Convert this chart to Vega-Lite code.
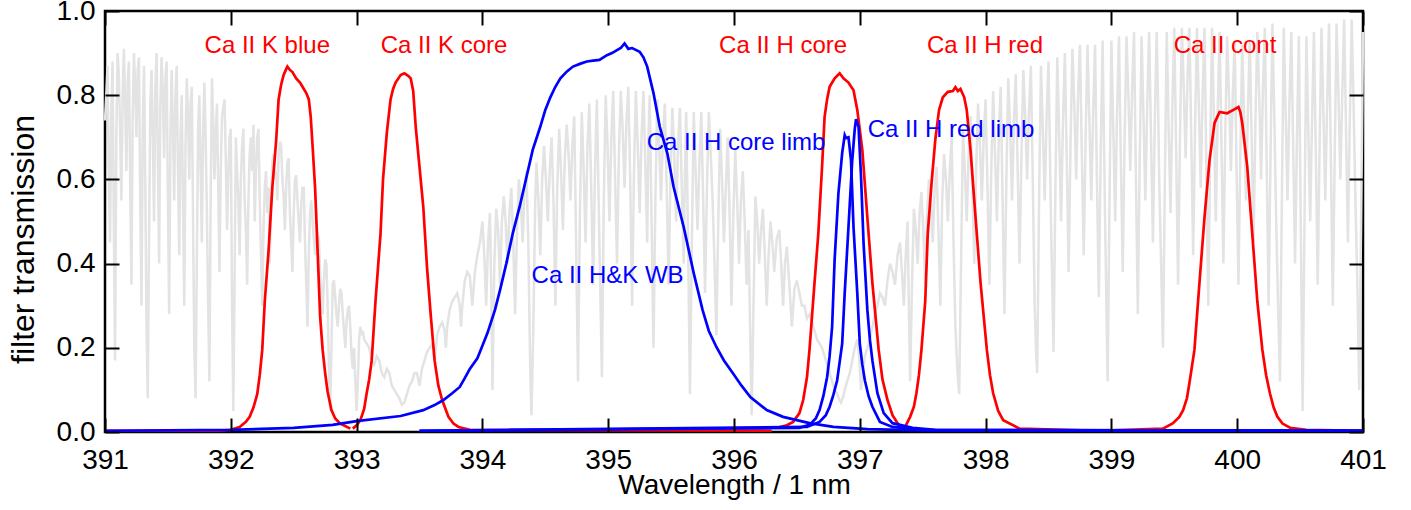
{
"$schema": "https://vega.github.io/schema/vega-lite/v6.json",
"width": 1258, "height": 421,
"autosize": {"type": "none"},
"padding": {"left": 105, "top": 11, "right": 48, "bottom": 78},
"config": {"view": {"stroke": "black", "strokeWidth": 2.5}, "font": "Liberation Sans"},
"datasets": {
"grey": [
{"w":391.00,"t":0.74},{"w":391.01,"t":0.80},{"w":391.02,"t":0.87},{"w":391.03,"t":0.62},{"w":391.04,"t":0.45},{"w":391.05,"t":0.76},{"w":391.06,"t":0.88},{"w":391.07,"t":0.50},{"w":391.08,"t":0.17},{"w":391.09,"t":0.70},{"w":391.10,"t":0.90},{"w":391.11,"t":0.85},{"w":391.12,"t":0.72},{"w":391.13,"t":0.55},{"w":391.14,"t":0.80},{"w":391.15,"t":0.91},{"w":391.16,"t":0.78},{"w":391.17,"t":0.62},{"w":391.18,"t":0.83},{"w":391.19,"t":0.88},{"w":391.20,"t":0.60},{"w":391.21,"t":0.35},{"w":391.22,"t":0.75},{"w":391.23,"t":0.90},{"w":391.24,"t":0.82},{"w":391.25,"t":0.70},{"w":391.26,"t":0.86},{"w":391.27,"t":0.89},{"w":391.28,"t":0.55},{"w":391.29,"t":0.30},{"w":391.30,"t":0.72},{"w":391.31,"t":0.87},{"w":391.32,"t":0.60},{"w":391.33,"t":0.25},{"w":391.34,"t":0.08},{"w":391.35,"t":0.45},{"w":391.36,"t":0.78},{"w":391.37,"t":0.86},{"w":391.38,"t":0.70},{"w":391.39,"t":0.50},{"w":391.40,"t":0.82},{"w":391.41,"t":0.90},{"w":391.42,"t":0.65},{"w":391.43,"t":0.40},{"w":391.44,"t":0.78},{"w":391.45,"t":0.89},{"w":391.46,"t":0.80},{"w":391.47,"t":0.65},{"w":391.48,"t":0.84},{"w":391.49,"t":0.88},{"w":391.50,"t":0.55},{"w":391.51,"t":0.28},{"w":391.52,"t":0.70},{"w":391.53,"t":0.86},{"w":391.54,"t":0.72},{"w":391.55,"t":0.55},{"w":391.56,"t":0.80},{"w":391.57,"t":0.87},{"w":391.58,"t":0.62},{"w":391.59,"t":0.42},{"w":391.60,"t":0.70},{"w":391.61,"t":0.80},{"w":391.62,"t":0.55},{"w":391.63,"t":0.30},{"w":391.64,"t":0.68},{"w":391.65,"t":0.84},{"w":391.66,"t":0.75},{"w":391.67,"t":0.60},{"w":391.68,"t":0.78},{"w":391.69,"t":0.82},{"w":391.70,"t":0.50},{"w":391.71,"t":0.20},{"w":391.72,"t":0.08},{"w":391.73,"t":0.40},{"w":391.74,"t":0.72},{"w":391.75,"t":0.80},{"w":391.76,"t":0.62},{"w":391.77,"t":0.45},{"w":391.78,"t":0.72},{"w":391.79,"t":0.83},{"w":391.80,"t":0.70},{"w":391.81,"t":0.52},{"w":391.82,"t":0.30},{"w":391.83,"t":0.12},{"w":391.84,"t":0.55},{"w":391.85,"t":0.84},{"w":391.86,"t":0.74},{"w":391.87,"t":0.60},{"w":391.88,"t":0.70},{"w":391.89,"t":0.78},{"w":391.90,"t":0.58},{"w":391.91,"t":0.38},{"w":391.92,"t":0.62},{"w":391.93,"t":0.75},{"w":391.94,"t":0.77},{"w":391.95,"t":0.79},{"w":391.96,"t":0.65},{"w":391.97,"t":0.48},{"w":391.98,"t":0.60},{"w":391.99,"t":0.70},{"w":392.00,"t":0.72},{"w":392.01,"t":0.30},{"w":392.02,"t":0.05},{"w":392.03,"t":0.35},{"w":392.04,"t":0.70},{"w":392.05,"t":0.62},{"w":392.06,"t":0.55},{"w":392.07,"t":0.42},{"w":392.08,"t":0.60},{"w":392.09,"t":0.68},{"w":392.10,"t":0.72},{"w":392.11,"t":0.55},{"w":392.12,"t":0.48},{"w":392.13,"t":0.35},{"w":392.14,"t":0.55},{"w":392.15,"t":0.66},{"w":392.16,"t":0.70},{"w":392.17,"t":0.62},{"w":392.18,"t":0.73},{"w":392.19,"t":0.50},{"w":392.20,"t":0.62},{"w":392.21,"t":0.70},{"w":392.22,"t":0.72},{"w":392.23,"t":0.55},{"w":392.24,"t":0.42},{"w":392.25,"t":0.30},{"w":392.26,"t":0.48},{"w":392.27,"t":0.58},{"w":392.28,"t":0.62},{"w":392.29,"t":0.52},{"w":392.30,"t":0.58},{"w":392.31,"t":0.40},{"w":392.32,"t":0.55},{"w":392.33,"t":0.64},{"w":392.34,"t":0.66},{"w":392.35,"t":0.60},{"w":392.36,"t":0.62},{"w":392.37,"t":0.55},{"w":392.38,"t":0.66},{"w":392.39,"t":0.69},{"w":392.40,"t":0.68},{"w":392.41,"t":0.60},{"w":392.42,"t":0.56},{"w":392.43,"t":0.48},{"w":392.44,"t":0.58},{"w":392.45,"t":0.64},{"w":392.46,"t":0.65},{"w":392.47,"t":0.52},{"w":392.48,"t":0.45},{"w":392.49,"t":0.38},{"w":392.50,"t":0.52},{"w":392.51,"t":0.60},{"w":392.52,"t":0.61},{"w":392.53,"t":0.55},{"w":392.54,"t":0.50},{"w":392.55,"t":0.45},{"w":392.56,"t":0.54},{"w":392.57,"t":0.58},{"w":392.58,"t":0.58},{"w":392.59,"t":0.45},{"w":392.60,"t":0.35},{"w":392.61,"t":0.25},{"w":392.62,"t":0.42},{"w":392.63,"t":0.52},{"w":392.64,"t":0.55},{"w":392.65,"t":0.50},{"w":392.66,"t":0.46},{"w":392.67,"t":0.42},{"w":392.68,"t":0.46},{"w":392.69,"t":0.47},{"w":392.70,"t":0.46},{"w":392.71,"t":0.38},{"w":392.72,"t":0.33},{"w":392.73,"t":0.28},{"w":392.74,"t":0.36},{"w":392.75,"t":0.41},{"w":392.76,"t":0.40},{"w":392.77,"t":0.30},{"w":392.78,"t":0.15},{"w":392.79,"t":0.05},{"w":392.80,"t":0.20},{"w":392.81,"t":0.35},{"w":392.82,"t":0.36},{"w":392.83,"t":0.32},{"w":392.84,"t":0.28},{"w":392.85,"t":0.25},{"w":392.86,"t":0.30},{"w":392.87,"t":0.34},{"w":392.88,"t":0.33},{"w":392.89,"t":0.28},{"w":392.90,"t":0.24},{"w":392.91,"t":0.20},{"w":392.92,"t":0.26},{"w":392.93,"t":0.29},{"w":392.94,"t":0.30},{"w":392.95,"t":0.25},{"w":392.96,"t":0.18},{"w":392.97,"t":0.15},{"w":392.98,"t":0.20},{"w":392.99,"t":0.12},{"w":393.00,"t":0.05},{"w":393.01,"t":0.12},{"w":393.02,"t":0.22},{"w":393.03,"t":0.25},{"w":393.04,"t":0.23},{"w":393.05,"t":0.24},{"w":393.06,"t":0.22},{"w":393.08,"t":0.21},{"w":393.10,"t":0.20},{"w":393.12,"t":0.17},{"w":393.14,"t":0.16},{"w":393.16,"t":0.18},{"w":393.18,"t":0.17},{"w":393.20,"t":0.14},{"w":393.22,"t":0.13},{"w":393.24,"t":0.15},{"w":393.26,"t":0.14},{"w":393.28,"t":0.11},{"w":393.30,"t":0.10},{"w":393.32,"t":0.09},{"w":393.34,"t":0.08},{"w":393.36,"t":0.065},{"w":393.38,"t":0.07},{"w":393.40,"t":0.09},{"w":393.42,"t":0.11},{"w":393.44,"t":0.12},{"w":393.46,"t":0.14},{"w":393.48,"t":0.14},{"w":393.50,"t":0.11},{"w":393.52,"t":0.15},{"w":393.54,"t":0.17},{"w":393.56,"t":0.19},{"w":393.58,"t":0.20},{"w":393.60,"t":0.21},{"w":393.62,"t":0.17},{"w":393.64,"t":0.23},{"w":393.66,"t":0.25},{"w":393.68,"t":0.26},{"w":393.70,"t":0.24},{"w":393.71,"t":0.20},{"w":393.72,"t":0.25},{"w":393.74,"t":0.29},{"w":393.76,"t":0.31},{"w":393.78,"t":0.32},{"w":393.80,"t":0.33},{"w":393.82,"t":0.30},{"w":393.83,"t":0.25},{"w":393.84,"t":0.30},{"w":393.86,"t":0.36},{"w":393.88,"t":0.38},{"w":393.90,"t":0.37},{"w":393.92,"t":0.30},{"w":393.94,"t":0.38},{"w":393.96,"t":0.42},{"w":393.98,"t":0.45},
{"w":394.00,"t":0.50},{"w":394.015,"t":0.42},{"w":394.03,"t":0.30},{"w":394.045,"t":0.45},{"w":394.06,"t":0.52},{"w":394.07,"t":0.35},{"w":394.08,"t":0.10},{"w":394.095,"t":0.40},{"w":394.11,"t":0.53},{"w":394.125,"t":0.48},{"w":394.14,"t":0.35},{"w":394.155,"t":0.50},{"w":394.17,"t":0.56},{"w":394.185,"t":0.50},{"w":394.20,"t":0.40},{"w":394.215,"t":0.52},{"w":394.23,"t":0.58},{"w":394.245,"t":0.45},{"w":394.26,"t":0.28},{"w":394.275,"t":0.48},{"w":394.29,"t":0.60},{"w":394.305,"t":0.55},{"w":394.32,"t":0.45},{"w":394.335,"t":0.58},{"w":394.35,"t":0.62},{"w":394.365,"t":0.45},{"w":394.38,"t":0.15},{"w":394.39,"t":0.04},{"w":394.405,"t":0.25},{"w":394.42,"t":0.55},{"w":394.43,"t":0.64},{"w":394.445,"t":0.55},{"w":394.46,"t":0.42},{"w":394.475,"t":0.60},{"w":394.49,"t":0.68},{"w":394.505,"t":0.60},{"w":394.52,"t":0.50},{"w":394.535,"t":0.62},{"w":394.55,"t":0.70},{"w":394.565,"t":0.55},{"w":394.58,"t":0.30},{"w":394.595,"t":0.58},{"w":394.61,"t":0.72},{"w":394.625,"t":0.62},{"w":394.64,"t":0.48},{"w":394.655,"t":0.65},{"w":394.67,"t":0.73},{"w":394.685,"t":0.66},{"w":394.70,"t":0.55},{"w":394.715,"t":0.68},{"w":394.73,"t":0.75},{"w":394.745,"t":0.45},{"w":394.76,"t":0.12},{"w":394.775,"t":0.52},{"w":394.79,"t":0.76},{"w":394.805,"t":0.62},{"w":394.82,"t":0.45},{"w":394.835,"t":0.68},{"w":394.85,"t":0.78},{"w":394.865,"t":0.58},{"w":394.88,"t":0.35},{"w":394.895,"t":0.62},{"w":394.91,"t":0.79},{"w":394.93,"t":0.45},{"w":394.95,"t":0.13},{"w":394.965,"t":0.55},{"w":394.98,"t":0.80},{"w":394.995,"t":0.68},{"w":395.01,"t":0.50},{"w":395.025,"t":0.70},{"w":395.04,"t":0.81},{"w":395.055,"t":0.60},{"w":395.07,"t":0.40},{"w":395.085,"t":0.66},{"w":395.10,"t":0.81},{"w":395.115,"t":0.72},{"w":395.13,"t":0.58},{"w":395.145,"t":0.74},{"w":395.16,"t":0.82},{"w":395.175,"t":0.60},{"w":395.19,"t":0.30},{"w":395.205,"t":0.62},{"w":395.22,"t":0.81},{"w":395.235,"t":0.68},{"w":395.25,"t":0.52},{"w":395.265,"t":0.70},{"w":395.28,"t":0.81},{"w":395.295,"t":0.64},{"w":395.31,"t":0.45},{"w":395.32,"t":0.70},{"w":395.33,"t":0.80},{"w":395.345,"t":0.50},{"w":395.36,"t":0.20},{"w":395.375,"t":0.55},{"w":395.39,"t":0.79},{"w":395.405,"t":0.68},{"w":395.42,"t":0.55},{"w":395.435,"t":0.70},{"w":395.45,"t":0.78},{"w":395.465,"t":0.58},{"w":395.48,"t":0.35},{"w":395.495,"t":0.60},{"w":395.51,"t":0.77},{"w":395.525,"t":0.66},{"w":395.54,"t":0.50},{"w":395.555,"t":0.68},{"w":395.57,"t":0.77},{"w":395.585,"t":0.58},{"w":395.60,"t":0.40},{"w":395.61,"t":0.62},{"w":395.62,"t":0.76},{"w":395.635,"t":0.45},{"w":395.65,"t":0.09},{"w":395.665,"t":0.45},{"w":395.68,"t":0.76},{"w":395.695,"t":0.62},{"w":395.71,"t":0.48},{"w":395.725,"t":0.64},{"w":395.74,"t":0.76},{"w":395.755,"t":0.55},{"w":395.77,"t":0.33},{"w":395.785,"t":0.58},{"w":395.80,"t":0.76},{"w":395.815,"t":0.66},{"w":395.83,"t":0.55},{"w":395.845,"t":0.40},{"w":395.86,"t":0.23},{"w":395.875,"t":0.50},{"w":395.89,"t":0.72},{"w":395.905,"t":0.60},{"w":395.92,"t":0.45},{"w":395.935,"t":0.58},{"w":395.95,"t":0.70},{"w":395.965,"t":0.52},{"w":395.98,"t":0.30},{"w":395.995,"t":0.52},{"w":396.01,"t":0.67},{"w":396.025,"t":0.55},{"w":396.04,"t":0.40},{"w":396.055,"t":0.55},{"w":396.07,"t":0.62},{"w":396.085,"t":0.50},{"w":396.10,"t":0.35},{"w":396.115,"t":0.48},{"w":396.125,"t":0.30},{"w":396.14,"t":0.04},{"w":396.155,"t":0.30},{"w":396.17,"t":0.56},{"w":396.185,"t":0.50},{"w":396.20,"t":0.40},{"w":396.215,"t":0.48},{"w":396.23,"t":0.53},{"w":396.245,"t":0.42},{"w":396.26,"t":0.30},{"w":396.275,"t":0.42},{"w":396.29,"t":0.50},{"w":396.305,"t":0.45},{"w":396.32,"t":0.38},{"w":396.34,"t":0.46},{"w":396.36,"t":0.48},{"w":396.375,"t":0.40},{"w":396.39,"t":0.30},{"w":396.405,"t":0.40},{"w":396.42,"t":0.44},{"w":396.44,"t":0.35},{"w":396.46,"t":0.25},{"w":396.48,"t":0.34},{"w":396.50,"t":0.36},{"w":396.52,"t":0.33},{"w":396.54,"t":0.30},{"w":396.56,"t":0.30},{"w":396.58,"t":0.27},{"w":396.60,"t":0.28},{"w":396.62,"t":0.26},{"w":396.64,"t":0.24},{"w":396.66,"t":0.22},{"w":396.68,"t":0.21},{"w":396.70,"t":0.20},{"w":396.72,"t":0.18},{"w":396.74,"t":0.16},{"w":396.76,"t":0.14},{"w":396.78,"t":0.12},{"w":396.80,"t":0.10},{"w":396.82,"t":0.09},{"w":396.84,"t":0.075},{"w":396.85,"t":0.07},{"w":396.87,"t":0.085},{"w":396.88,"t":0.10},{"w":396.90,"t":0.12},{"w":396.92,"t":0.14},{"w":396.94,"t":0.17},{"w":396.96,"t":0.20},{"w":396.98,"t":0.22},{"w":396.995,"t":0.18},{"w":397.01,"t":0.10},{"w":397.025,"t":0.14},{"w":397.04,"t":0.18},{"w":397.06,"t":0.20},{"w":397.08,"t":0.22},{"w":397.10,"t":0.25},{"w":397.12,"t":0.28},{"w":397.14,"t":0.30},{"w":397.16,"t":0.33},{"w":397.18,"t":0.32},{"w":397.20,"t":0.30},{"w":397.22,"t":0.36},{"w":397.24,"t":0.40},{"w":397.26,"t":0.38},{"w":397.28,"t":0.35},{"w":397.30,"t":0.42},{"w":397.32,"t":0.45},{"w":397.335,"t":0.38},{"w":397.35,"t":0.30},{"w":397.365,"t":0.42},{"w":397.38,"t":0.50},{"w":397.39,"t":0.30},{"w":397.40,"t":0.12},{"w":397.415,"t":0.35},{"w":397.43,"t":0.53},{"w":397.445,"t":0.48},{"w":397.46,"t":0.40},{"w":397.475,"t":0.52},{"w":397.49,"t":0.57},{"w":397.505,"t":0.48},{"w":397.52,"t":0.35},{"w":397.535,"t":0.52},{"w":397.55,"t":0.60},{"w":397.565,"t":0.55},{"w":397.58,"t":0.45},{"w":397.595,"t":0.58},{"w":397.61,"t":0.63},{"w":397.625,"t":0.48},{"w":397.64,"t":0.30},{"w":397.655,"t":0.55},{"w":397.67,"t":0.66},{"w":397.685,"t":0.60},{"w":397.70,"t":0.50},{"w":397.715,"t":0.62},{"w":397.73,"t":0.70},{"w":397.745,"t":0.45},{"w":397.76,"t":0.25},{"w":397.775,"t":0.15},{"w":397.79,"t":0.09},{"w":397.805,"t":0.40},{"w":397.82,"t":0.72},{"w":397.835,"t":0.62},{"w":397.85,"t":0.50},{"w":397.865,"t":0.66},{"w":397.88,"t":0.75},{"w":397.895,"t":0.58},{"w":397.91,"t":0.40},{"w":397.925,"t":0.62},{"w":397.94,"t":0.78},{"w":397.955,"t":0.68},{"w":397.97,"t":0.55},{"w":397.985,"t":0.70},{"w":398.00,"t":0.79},{"w":398.015,"t":0.58},{"w":398.03,"t":0.35},{"w":398.045,"t":0.62},{"w":398.06,"t":0.81},{"w":398.075,"t":0.66},{"w":398.09,"t":0.50},{"w":398.105,"t":0.70},{"w":398.12,"t":0.82},{"w":398.135,"t":0.55},{"w":398.15,"t":0.28},{"w":398.165,"t":0.60},{"w":398.18,"t":0.84},{"w":398.195,"t":0.72},{"w":398.21,"t":0.55},{"w":398.225,"t":0.74},{"w":398.24,"t":0.85},{"w":398.255,"t":0.62},{"w":398.27,"t":0.40},{"w":398.285,"t":0.66},{"w":398.30,"t":0.86},{"w":398.315,"t":0.75},{"w":398.33,"t":0.60},{"w":398.345,"t":0.76},{"w":398.36,"t":0.87},{"w":398.375,"t":0.60},{"w":398.39,"t":0.30},{"w":398.40,"t":0.20},{"w":398.41,"t":0.14},{"w":398.425,"t":0.55},{"w":398.44,"t":0.87},{"w":398.455,"t":0.72},{"w":398.47,"t":0.55},{"w":398.485,"t":0.75},{"w":398.50,"t":0.88},{"w":398.52,"t":0.50},{"w":398.54,"t":0.19},{"w":398.555,"t":0.58},{"w":398.57,"t":0.89},{"w":398.585,"t":0.70},{"w":398.60,"t":0.50},{"w":398.615,"t":0.74},{"w":398.63,"t":0.90},{"w":398.645,"t":0.65},{"w":398.66,"t":0.38},{"w":398.675,"t":0.68},{"w":398.69,"t":0.91},{"w":398.705,"t":0.78},{"w":398.72,"t":0.60},{"w":398.735,"t":0.80},{"w":398.75,"t":0.92},{"w":398.765,"t":0.66},{"w":398.78,"t":0.42},{"w":398.795,"t":0.70},{"w":398.81,"t":0.92},{"w":398.825,"t":0.74},{"w":398.84,"t":0.55},{"w":398.855,"t":0.76},{"w":398.87,"t":0.92},{"w":398.885,"t":0.60},{"w":398.90,"t":0.32},{"w":398.915,"t":0.66},{"w":398.93,"t":0.93},{"w":398.95,"t":0.50},{"w":398.97,"t":0.12},{"w":398.985,"t":0.55},{"w":399.00,"t":0.93},{"w":399.015,"t":0.72},{"w":399.03,"t":0.50},{"w":399.045,"t":0.76},{"w":399.06,"t":0.94},{"w":399.075,"t":0.65},{"w":399.09,"t":0.38},{"w":399.105,"t":0.70},{"w":399.12,"t":0.94},{"w":399.135,"t":0.80},{"w":399.15,"t":0.62},{"w":399.165,"t":0.82},{"w":399.18,"t":0.95},{"w":399.195,"t":0.60},{"w":399.21,"t":0.28},{"w":399.225,"t":0.65},{"w":399.24,"t":0.94},{"w":399.255,"t":0.75},{"w":399.27,"t":0.55},{"w":399.285,"t":0.78},{"w":399.30,"t":0.95},{"w":399.315,"t":0.70},{"w":399.33,"t":0.45},{"w":399.345,"t":0.74},{"w":399.36,"t":0.95},{"w":399.37,"t":0.80},{"w":399.38,"t":0.60},{"w":399.395,"t":0.40},{"w":399.41,"t":0.20},{"w":399.425,"t":0.60},{"w":399.44,"t":0.95},{"w":399.455,"t":0.72},{"w":399.47,"t":0.52},{"w":399.485,"t":0.78},{"w":399.50,"t":0.96},{"w":399.515,"t":0.66},{"w":399.53,"t":0.35},{"w":399.545,"t":0.70},{"w":399.56,"t":0.96},{"w":399.575,"t":0.82},{"w":399.59,"t":0.65},{"w":399.605,"t":0.84},{"w":399.62,"t":0.96},{"w":399.635,"t":0.70},{"w":399.65,"t":0.42},{"w":399.665,"t":0.72},{"w":399.68,"t":0.96},{"w":399.695,"t":0.78},{"w":399.71,"t":0.58},{"w":399.725,"t":0.80},{"w":399.74,"t":0.96},{"w":399.755,"t":0.62},{"w":399.77,"t":0.30},{"w":399.785,"t":0.66},{"w":399.80,"t":0.96},{"w":399.815,"t":0.74},{"w":399.83,"t":0.50},{"w":399.845,"t":0.76},{"w":399.86,"t":0.95},{"w":399.875,"t":0.68},{"w":399.89,"t":0.40},{"w":399.905,"t":0.70},{"w":399.92,"t":0.94},{"w":399.935,"t":0.80},{"w":399.95,"t":0.62},{"w":399.965,"t":0.80},{"w":399.98,"t":0.93},{"w":399.995,"t":0.62},{"w":400.01,"t":0.35},{"w":400.025,"t":0.66},{"w":400.04,"t":0.92},{"w":400.055,"t":0.74},{"w":400.07,"t":0.55},{"w":400.085,"t":0.76},{"w":400.10,"t":0.93},{"w":400.115,"t":0.70},{"w":400.13,"t":0.45},{"w":400.145,"t":0.74},{"w":400.16,"t":0.95},{"w":400.175,"t":0.80},{"w":400.19,"t":0.60},{"w":400.205,"t":0.82},{"w":400.22,"t":0.96},{"w":400.235,"t":0.62},{"w":400.25,"t":0.30},{"w":400.265,"t":0.66},{"w":400.28,"t":0.97},{"w":400.295,"t":0.75},{"w":400.31,"t":0.50},{"w":400.325,"t":0.30},{"w":400.34,"t":0.12},{"w":400.355,"t":0.55},{"w":400.37,"t":0.96},{"w":400.385,"t":0.76},{"w":400.40,"t":0.55},{"w":400.415,"t":0.78},{"w":400.43,"t":0.95},{"w":400.445,"t":0.68},{"w":400.46,"t":0.40},{"w":400.475,"t":0.70},{"w":400.49,"t":0.94},{"w":400.505,"t":0.50},{"w":400.52,"t":0.05},{"w":400.535,"t":0.50},{"w":400.55,"t":0.94},{"w":400.565,"t":0.72},{"w":400.58,"t":0.50},{"w":400.595,"t":0.74},{"w":400.61,"t":0.95},{"w":400.625,"t":0.66},{"w":400.64,"t":0.35},{"w":400.655,"t":0.68},{"w":400.67,"t":0.96},{"w":400.685,"t":0.76},{"w":400.70,"t":0.55},{"w":400.715,"t":0.78},{"w":400.73,"t":0.97},{"w":400.745,"t":0.64},{"w":400.76,"t":0.30},{"w":400.775,"t":0.66},{"w":400.79,"t":0.97},{"w":400.805,"t":0.80},{"w":400.82,"t":0.60},{"w":400.835,"t":0.80},{"w":400.85,"t":0.98},{"w":400.865,"t":0.72},{"w":400.88,"t":0.45},{"w":400.895,"t":0.74},{"w":400.91,"t":0.98},{"w":400.925,"t":0.78},{"w":400.94,"t":0.55},{"w":400.955,"t":0.35},{"w":400.97,"t":0.10},{"w":400.985,"t":0.50},{"w":401.00,"t":0.95}
],
"filters": [
{"c":"Ca II K blue","g":"filter","w":391.0,"t":0.003},{"c":"Ca II K blue","g":"filter","w":391.9,"t":0.003},{"c":"Ca II K blue","g":"filter","w":392.0,"t":0.005},{"c":"Ca II K blue","g":"filter","w":392.07,"t":0.012},{"c":"Ca II K blue","g":"filter","w":392.12,"t":0.024},{"c":"Ca II K blue","g":"filter","w":392.15,"t":0.036},{"c":"Ca II K blue","g":"filter","w":392.18,"t":0.058},{"c":"Ca II K blue","g":"filter","w":392.21,"t":0.09},{"c":"Ca II K blue","g":"filter","w":392.23,"t":0.135},{"c":"Ca II K blue","g":"filter","w":392.25,"t":0.195},{"c":"Ca II K blue","g":"filter","w":392.27,"t":0.31},{"c":"Ca II K blue","g":"filter","w":392.30,"t":0.43},{"c":"Ca II K blue","g":"filter","w":392.33,"t":0.58},{"c":"Ca II K blue","g":"filter","w":392.36,"t":0.69},{"c":"Ca II K blue","g":"filter","w":392.38,"t":0.79},{"c":"Ca II K blue","g":"filter","w":392.40,"t":0.825},{"c":"Ca II K blue","g":"filter","w":392.42,"t":0.848},{"c":"Ca II K blue","g":"filter","w":392.44,"t":0.862},{"c":"Ca II K blue","g":"filter","w":392.45,"t":0.868},{"c":"Ca II K blue","g":"filter","w":392.47,"t":0.86},{"c":"Ca II K blue","g":"filter","w":392.49,"t":0.855},{"c":"Ca II K blue","g":"filter","w":392.52,"t":0.84},{"c":"Ca II K blue","g":"filter","w":392.55,"t":0.83},{"c":"Ca II K blue","g":"filter","w":392.57,"t":0.82},{"c":"Ca II K blue","g":"filter","w":392.60,"t":0.805},{"c":"Ca II K blue","g":"filter","w":392.62,"t":0.79},{"c":"Ca II K blue","g":"filter","w":392.635,"t":0.75},{"c":"Ca II K blue","g":"filter","w":392.65,"t":0.68},{"c":"Ca II K blue","g":"filter","w":392.67,"t":0.58},{"c":"Ca II K blue","g":"filter","w":392.69,"t":0.43},{"c":"Ca II K blue","g":"filter","w":392.71,"t":0.275},{"c":"Ca II K blue","g":"filter","w":392.73,"t":0.195},{"c":"Ca II K blue","g":"filter","w":392.75,"t":0.14},{"c":"Ca II K blue","g":"filter","w":392.77,"t":0.095},{"c":"Ca II K blue","g":"filter","w":392.80,"t":0.052},{"c":"Ca II K blue","g":"filter","w":392.83,"t":0.032},{"c":"Ca II K blue","g":"filter","w":392.87,"t":0.02},{"c":"Ca II K blue","g":"filter","w":392.95,"t":0.008},
{"c":"Ca II K core","g":"filter","w":392.97,"t":0.008},{"c":"Ca II K core","g":"filter","w":393.00,"t":0.016},{"c":"Ca II K core","g":"filter","w":393.03,"t":0.028},{"c":"Ca II K core","g":"filter","w":393.06,"t":0.055},{"c":"Ca II K core","g":"filter","w":393.08,"t":0.092},{"c":"Ca II K core","g":"filter","w":393.10,"t":0.125},{"c":"Ca II K core","g":"filter","w":393.12,"t":0.17},{"c":"Ca II K core","g":"filter","w":393.15,"t":0.31},{"c":"Ca II K core","g":"filter","w":393.19,"t":0.47},{"c":"Ca II K core","g":"filter","w":393.21,"t":0.6},{"c":"Ca II K core","g":"filter","w":393.24,"t":0.71},{"c":"Ca II K core","g":"filter","w":393.27,"t":0.79},{"c":"Ca II K core","g":"filter","w":393.29,"t":0.815},{"c":"Ca II K core","g":"filter","w":393.31,"t":0.83},{"c":"Ca II K core","g":"filter","w":393.35,"t":0.848},{"c":"Ca II K core","g":"filter","w":393.38,"t":0.852},{"c":"Ca II K core","g":"filter","w":393.41,"t":0.846},{"c":"Ca II K core","g":"filter","w":393.43,"t":0.84},{"c":"Ca II K core","g":"filter","w":393.45,"t":0.81},{"c":"Ca II K core","g":"filter","w":393.47,"t":0.725},{"c":"Ca II K core","g":"filter","w":393.50,"t":0.63},{"c":"Ca II K core","g":"filter","w":393.53,"t":0.535},{"c":"Ca II K core","g":"filter","w":393.56,"t":0.39},{"c":"Ca II K core","g":"filter","w":393.59,"t":0.275},{"c":"Ca II K core","g":"filter","w":393.62,"t":0.17},{"c":"Ca II K core","g":"filter","w":393.65,"t":0.11},{"c":"Ca II K core","g":"filter","w":393.68,"t":0.076},{"c":"Ca II K core","g":"filter","w":393.73,"t":0.036},{"c":"Ca II K core","g":"filter","w":393.77,"t":0.02},{"c":"Ca II K core","g":"filter","w":393.81,"t":0.012},{"c":"Ca II K core","g":"filter","w":393.90,"t":0.005},{"c":"Ca II K core","g":"filter","w":396.3,"t":0.003},
{"c":"Ca II H core","g":"filter","w":396.34,"t":0.01},{"c":"Ca II H core","g":"filter","w":396.42,"t":0.016},{"c":"Ca II H core","g":"filter","w":396.47,"t":0.024},{"c":"Ca II H core","g":"filter","w":396.52,"t":0.045},{"c":"Ca II H core","g":"filter","w":396.55,"t":0.076},{"c":"Ca II H core","g":"filter","w":396.58,"t":0.13},{"c":"Ca II H core","g":"filter","w":396.60,"t":0.195},{"c":"Ca II H core","g":"filter","w":396.64,"t":0.354},{"c":"Ca II H core","g":"filter","w":396.67,"t":0.47},{"c":"Ca II H core","g":"filter","w":396.70,"t":0.63},{"c":"Ca II H core","g":"filter","w":396.72,"t":0.748},{"c":"Ca II H core","g":"filter","w":396.74,"t":0.79},{"c":"Ca II H core","g":"filter","w":396.76,"t":0.82},{"c":"Ca II H core","g":"filter","w":396.80,"t":0.84},{"c":"Ca II H core","g":"filter","w":396.84,"t":0.852},{"c":"Ca II H core","g":"filter","w":396.87,"t":0.84},{"c":"Ca II H core","g":"filter","w":396.91,"t":0.83},{"c":"Ca II H core","g":"filter","w":396.95,"t":0.812},{"c":"Ca II H core","g":"filter","w":396.98,"t":0.765},{"c":"Ca II H core","g":"filter","w":397.02,"t":0.67},{"c":"Ca II H core","g":"filter","w":397.06,"t":0.51},{"c":"Ca II H core","g":"filter","w":397.10,"t":0.354},{"c":"Ca II H core","g":"filter","w":397.15,"t":0.195},{"c":"Ca II H core","g":"filter","w":397.18,"t":0.125},{"c":"Ca II H core","g":"filter","w":397.22,"t":0.076},{"c":"Ca II H core","g":"filter","w":397.26,"t":0.04},{"c":"Ca II H core","g":"filter","w":397.30,"t":0.021},{"c":"Ca II H core","g":"filter","w":397.33,"t":0.01},
{"c":"Ca II H red","g":"filter","w":397.36,"t":0.012},{"c":"Ca II H red","g":"filter","w":397.40,"t":0.036},{"c":"Ca II H red","g":"filter","w":397.43,"t":0.06},{"c":"Ca II H red","g":"filter","w":397.45,"t":0.092},{"c":"Ca II H red","g":"filter","w":397.47,"t":0.135},{"c":"Ca II H red","g":"filter","w":397.49,"t":0.195},{"c":"Ca II H red","g":"filter","w":397.52,"t":0.31},{"c":"Ca II H red","g":"filter","w":397.54,"t":0.47},{"c":"Ca II H red","g":"filter","w":397.57,"t":0.59},{"c":"Ca II H red","g":"filter","w":397.60,"t":0.694},{"c":"Ca II H red","g":"filter","w":397.63,"t":0.765},{"c":"Ca II H red","g":"filter","w":397.66,"t":0.795},{"c":"Ca II H red","g":"filter","w":397.70,"t":0.808},{"c":"Ca II H red","g":"filter","w":397.74,"t":0.81},{"c":"Ca II H red","g":"filter","w":397.76,"t":0.819},{"c":"Ca II H red","g":"filter","w":397.78,"t":0.81},{"c":"Ca II H red","g":"filter","w":397.80,"t":0.815},{"c":"Ca II H red","g":"filter","w":397.83,"t":0.795},{"c":"Ca II H red","g":"filter","w":397.85,"t":0.765},{"c":"Ca II H red","g":"filter","w":397.88,"t":0.67},{"c":"Ca II H red","g":"filter","w":397.92,"t":0.51},{"c":"Ca II H red","g":"filter","w":397.96,"t":0.354},{"c":"Ca II H red","g":"filter","w":398.01,"t":0.195},{"c":"Ca II H red","g":"filter","w":398.035,"t":0.135},{"c":"Ca II H red","g":"filter","w":398.06,"t":0.092},{"c":"Ca II H red","g":"filter","w":398.10,"t":0.05},{"c":"Ca II H red","g":"filter","w":398.14,"t":0.028},{"c":"Ca II H red","g":"filter","w":398.27,"t":0.008},{"c":"Ca II H red","g":"filter","w":398.9,"t":0.003},
{"c":"Ca II cont","g":"filter","w":398.9,"t":0.003},{"c":"Ca II cont","g":"filter","w":399.41,"t":0.008},{"c":"Ca II cont","g":"filter","w":399.49,"t":0.021},{"c":"Ca II cont","g":"filter","w":399.54,"t":0.036},{"c":"Ca II cont","g":"filter","w":399.57,"t":0.052},{"c":"Ca II cont","g":"filter","w":399.60,"t":0.08},{"c":"Ca II cont","g":"filter","w":399.62,"t":0.116},{"c":"Ca II cont","g":"filter","w":399.66,"t":0.195},{"c":"Ca II cont","g":"filter","w":399.70,"t":0.354},{"c":"Ca II cont","g":"filter","w":399.74,"t":0.51},{"c":"Ca II cont","g":"filter","w":399.78,"t":0.646},{"c":"Ca II cont","g":"filter","w":399.82,"t":0.734},{"c":"Ca II cont","g":"filter","w":399.86,"t":0.76},{"c":"Ca II cont","g":"filter","w":399.92,"t":0.757},{"c":"Ca II cont","g":"filter","w":399.97,"t":0.765},{"c":"Ca II cont","g":"filter","w":400.01,"t":0.772},{"c":"Ca II cont","g":"filter","w":400.025,"t":0.76},{"c":"Ca II cont","g":"filter","w":400.04,"t":0.734},{"c":"Ca II cont","g":"filter","w":400.08,"t":0.63},{"c":"Ca II cont","g":"filter","w":400.12,"t":0.47},{"c":"Ca II cont","g":"filter","w":400.16,"t":0.31},{"c":"Ca II cont","g":"filter","w":400.20,"t":0.195},{"c":"Ca II cont","g":"filter","w":400.23,"t":0.135},{"c":"Ca II cont","g":"filter","w":400.26,"t":0.092},{"c":"Ca II cont","g":"filter","w":400.29,"t":0.058},{"c":"Ca II cont","g":"filter","w":400.32,"t":0.036},{"c":"Ca II cont","g":"filter","w":400.36,"t":0.02},{"c":"Ca II cont","g":"filter","w":400.42,"t":0.01},{"c":"Ca II cont","g":"filter","w":400.55,"t":0.005},{"c":"Ca II cont","g":"filter","w":401.0,"t":0.003},
{"c":"Ca II H&K WB","g":"limb","w":391.0,"t":0.003},{"c":"Ca II H&K WB","g":"limb","w":392.0,"t":0.005},{"c":"Ca II H&K WB","g":"limb","w":392.5,"t":0.01},{"c":"Ca II H&K WB","g":"limb","w":392.81,"t":0.017},{"c":"Ca II H&K WB","g":"limb","w":393.0,"t":0.026},{"c":"Ca II H&K WB","g":"limb","w":393.35,"t":0.038},{"c":"Ca II H&K WB","g":"limb","w":393.53,"t":0.052},{"c":"Ca II H&K WB","g":"limb","w":393.62,"t":0.064},{"c":"Ca II H&K WB","g":"limb","w":393.69,"t":0.076},{"c":"Ca II H&K WB","g":"limb","w":393.76,"t":0.092},{"c":"Ca II H&K WB","g":"limb","w":393.82,"t":0.107},{"c":"Ca II H&K WB","g":"limb","w":393.86,"t":0.128},{"c":"Ca II H&K WB","g":"limb","w":393.90,"t":0.15},{"c":"Ca II H&K WB","g":"limb","w":393.96,"t":0.175},{"c":"Ca II H&K WB","g":"limb","w":394.00,"t":0.205},{"c":"Ca II H&K WB","g":"limb","w":394.04,"t":0.235},{"c":"Ca II H&K WB","g":"limb","w":394.10,"t":0.29},{"c":"Ca II H&K WB","g":"limb","w":394.14,"t":0.337},{"c":"Ca II H&K WB","g":"limb","w":394.19,"t":0.40},{"c":"Ca II H&K WB","g":"limb","w":394.24,"t":0.47},{"c":"Ca II H&K WB","g":"limb","w":394.30,"t":0.54},{"c":"Ca II H&K WB","g":"limb","w":394.35,"t":0.605},{"c":"Ca II H&K WB","g":"limb","w":394.40,"t":0.67},{"c":"Ca II H&K WB","g":"limb","w":394.46,"t":0.725},{"c":"Ca II H&K WB","g":"limb","w":394.50,"t":0.765},{"c":"Ca II H&K WB","g":"limb","w":394.54,"t":0.795},{"c":"Ca II H&K WB","g":"limb","w":394.58,"t":0.82},{"c":"Ca II H&K WB","g":"limb","w":394.62,"t":0.84},{"c":"Ca II H&K WB","g":"limb","w":394.67,"t":0.856},{"c":"Ca II H&K WB","g":"limb","w":394.72,"t":0.868},{"c":"Ca II H&K WB","g":"limb","w":394.78,"t":0.875},{"c":"Ca II H&K WB","g":"limb","w":394.83,"t":0.88},{"c":"Ca II H&K WB","g":"limb","w":394.88,"t":0.882},{"c":"Ca II H&K WB","g":"limb","w":394.93,"t":0.884},{"c":"Ca II H&K WB","g":"limb","w":394.99,"t":0.895},{"c":"Ca II H&K WB","g":"limb","w":395.03,"t":0.90},{"c":"Ca II H&K WB","g":"limb","w":395.07,"t":0.907},{"c":"Ca II H&K WB","g":"limb","w":395.10,"t":0.912},{"c":"Ca II H&K WB","g":"limb","w":395.13,"t":0.923},{"c":"Ca II H&K WB","g":"limb","w":395.16,"t":0.91},{"c":"Ca II H&K WB","g":"limb","w":395.19,"t":0.912},{"c":"Ca II H&K WB","g":"limb","w":395.25,"t":0.903},{"c":"Ca II H&K WB","g":"limb","w":395.28,"t":0.89},{"c":"Ca II H&K WB","g":"limb","w":395.31,"t":0.868},{"c":"Ca II H&K WB","g":"limb","w":395.36,"t":0.805},{"c":"Ca II H&K WB","g":"limb","w":395.41,"t":0.725},{"c":"Ca II H&K WB","g":"limb","w":395.47,"t":0.662},{"c":"Ca II H&K WB","g":"limb","w":395.52,"t":0.582},{"c":"Ca II H&K WB","g":"limb","w":395.60,"t":0.487},{"c":"Ca II H&K WB","g":"limb","w":395.68,"t":0.377},{"c":"Ca II H&K WB","g":"limb","w":395.75,"t":0.29},{"c":"Ca II H&K WB","g":"limb","w":395.80,"t":0.24},{"c":"Ca II H&K WB","g":"limb","w":395.86,"t":0.202},{"c":"Ca II H&K WB","g":"limb","w":395.92,"t":0.17},{"c":"Ca II H&K WB","g":"limb","w":395.99,"t":0.14},{"c":"Ca II H&K WB","g":"limb","w":396.06,"t":0.11},{"c":"Ca II H&K WB","g":"limb","w":396.13,"t":0.083},{"c":"Ca II H&K WB","g":"limb","w":396.26,"t":0.052},{"c":"Ca II H&K WB","g":"limb","w":396.39,"t":0.036},{"c":"Ca II H&K WB","g":"limb","w":396.60,"t":0.021},{"c":"Ca II H&K WB","g":"limb","w":396.79,"t":0.012},{"c":"Ca II H&K WB","g":"limb","w":397.06,"t":0.007},{"c":"Ca II H&K WB","g":"limb","w":397.5,"t":0.004},{"c":"Ca II H&K WB","g":"limb","w":401.0,"t":0.003},
{"c":"Ca II H core limb","g":"limb","w":393.5,"t":0.003},{"c":"Ca II H core limb","g":"limb","w":396.52,"t":0.01},{"c":"Ca II H core limb","g":"limb","w":396.60,"t":0.017},{"c":"Ca II H core limb","g":"limb","w":396.65,"t":0.032},{"c":"Ca II H core limb","g":"limb","w":396.68,"t":0.052},{"c":"Ca II H core limb","g":"limb","w":396.71,"t":0.085},{"c":"Ca II H core limb","g":"limb","w":396.74,"t":0.13},{"c":"Ca II H core limb","g":"limb","w":396.76,"t":0.18},{"c":"Ca II H core limb","g":"limb","w":396.78,"t":0.25},{"c":"Ca II H core limb","g":"limb","w":396.80,"t":0.41},{"c":"Ca II H core limb","g":"limb","w":396.83,"t":0.567},{"c":"Ca II H core limb","g":"limb","w":396.86,"t":0.663},{"c":"Ca II H core limb","g":"limb","w":396.88,"t":0.705},{"c":"Ca II H core limb","g":"limb","w":396.89,"t":0.698},{"c":"Ca II H core limb","g":"limb","w":396.91,"t":0.70},{"c":"Ca II H core limb","g":"limb","w":396.93,"t":0.646},{"c":"Ca II H core limb","g":"limb","w":396.95,"t":0.487},{"c":"Ca II H core limb","g":"limb","w":396.98,"t":0.33},{"c":"Ca II H core limb","g":"limb","w":397.00,"t":0.21},{"c":"Ca II H core limb","g":"limb","w":397.02,"t":0.16},{"c":"Ca II H core limb","g":"limb","w":397.04,"t":0.123},{"c":"Ca II H core limb","g":"limb","w":397.07,"t":0.085},{"c":"Ca II H core limb","g":"limb","w":397.10,"t":0.06},{"c":"Ca II H core limb","g":"limb","w":397.16,"t":0.024},{"c":"Ca II H core limb","g":"limb","w":397.26,"t":0.012},{"c":"Ca II H core limb","g":"limb","w":397.5,"t":0.005},{"c":"Ca II H core limb","g":"limb","w":401.0,"t":0.003},
{"c":"Ca II H red limb","g":"limb","w":393.5,"t":0.003},{"c":"Ca II H red limb","g":"limb","w":396.58,"t":0.012},{"c":"Ca II H red limb","g":"limb","w":396.68,"t":0.024},{"c":"Ca II H red limb","g":"limb","w":396.73,"t":0.04},{"c":"Ca II H red limb","g":"limb","w":396.76,"t":0.06},{"c":"Ca II H red limb","g":"limb","w":396.79,"t":0.088},{"c":"Ca II H red limb","g":"limb","w":396.82,"t":0.123},{"c":"Ca II H red limb","g":"limb","w":396.86,"t":0.21},{"c":"Ca II H red limb","g":"limb","w":396.88,"t":0.33},{"c":"Ca II H red limb","g":"limb","w":396.91,"t":0.487},{"c":"Ca II H red limb","g":"limb","w":396.94,"t":0.646},{"c":"Ca II H red limb","g":"limb","w":396.96,"t":0.72},{"c":"Ca II H red limb","g":"limb","w":396.97,"t":0.743},{"c":"Ca II H red limb","g":"limb","w":396.99,"t":0.725},{"c":"Ca II H red limb","g":"limb","w":397.01,"t":0.605},{"c":"Ca II H red limb","g":"limb","w":397.03,"t":0.448},{"c":"Ca II H red limb","g":"limb","w":397.06,"t":0.29},{"c":"Ca II H red limb","g":"limb","w":397.08,"t":0.22},{"c":"Ca II H red limb","g":"limb","w":397.10,"t":0.17},{"c":"Ca II H red limb","g":"limb","w":397.14,"t":0.092},{"c":"Ca II H red limb","g":"limb","w":397.19,"t":0.045},{"c":"Ca II H red limb","g":"limb","w":397.26,"t":0.021},{"c":"Ca II H red limb","g":"limb","w":397.42,"t":0.01},{"c":"Ca II H red limb","g":"limb","w":397.6,"t":0.005},{"c":"Ca II H red limb","g":"limb","w":401.0,"t":0.003}
],
"labels": [
{"label":"Ca II K blue","g":"filter","w":392.29,"t":0.900},
{"label":"Ca II K core","g":"filter","w":393.695,"t":0.900},
{"label":"Ca II H core","g":"filter","w":396.39,"t":0.900},
{"label":"Ca II H red","g":"filter","w":397.995,"t":0.900},
{"label":"Ca II cont","g":"filter","w":399.903,"t":0.900},
{"label":"Ca II H core limb","g":"limb","w":396.016,"t":0.670},
{"label":"Ca II H red limb","g":"limb","w":397.725,"t":0.700},
{"label":"Ca II H&K WB","g":"limb","w":394.995,"t":0.354}
]
},
"resolve": {"axis": {"x": "independent", "y": "independent"}},
"layer": [
{
"data": {"name": "grey"},
"mark": {"type": "line", "color": "#e3e3e3", "strokeWidth": 2.5},
"encoding": {
"x": {"field": "w", "type": "quantitative", "scale": {"domain": [391, 401], "nice": false, "zero": false},
 "axis": {"orient": "bottom", "values": [391,392,393,394,395,396,397,398,399,400,401], "format": "d", "tickSize": -14, "tickWidth": 2, "tickColor": "black", "labelPadding": 28, "labelFontSize": 28, "labelFont": "Liberation Sans", "labelColor": "black", "labelFlush": false, "labelOverlap": false, "domain": false, "grid": false, "zindex": 1,
  "title": "Wavelength / 1 nm", "titleFont": "Liberation Sans", "titleFontSize": 28, "titleFontWeight": "normal", "titleColor": "black", "titleBaseline": "alphabetic", "titleY": 61}},
"y": {"field": "t", "type": "quantitative", "scale": {"domain": [0, 1], "nice": false, "zero": false},
 "axis": {"orient": "left", "values": [0,0.2,0.4,0.6,0.8,1], "format": ".1f", "tickSize": -14, "tickWidth": 2, "tickColor": "black", "labelPadding": 24, "labelFontSize": 28, "labelFont": "Liberation Sans", "labelColor": "black", "labelFlush": false, "labelOverlap": false, "domain": false, "grid": false, "zindex": 1,
  "title": "filter transmission", "titleFont": "Liberation Sans", "titleFontSize": 32, "titleFontWeight": "normal", "titleColor": "black", "titleBaseline": "alphabetic", "titleAngle": 270, "titleX": -72, "titleY": 228}}
}
},
{
"data": {"name": "filters"},
"transform": [{"filter": "datum.g == 'filter'"}],
"mark": {"type": "line", "color": "#ff0000", "strokeWidth": 2.7},
"encoding": {
"x": {"field": "w", "type": "quantitative", "axis": {"orient": "top", "values": [391,392,393,394,395,396,397,398,399,400,401], "tickSize": -14, "tickWidth": 2, "tickColor": "black", "labels": false, "domain": false, "grid": false, "title": null, "zindex": 1}},
"y": {"field": "t", "type": "quantitative", "axis": {"orient": "right", "values": [0,0.2,0.4,0.6,0.8,1], "tickSize": -14, "tickWidth": 2, "tickColor": "black", "labels": false, "domain": false, "grid": false, "title": null, "zindex": 1}},
"detail": {"field": "c"}
}
},
{
"data": {"name": "filters"},
"transform": [{"filter": "datum.g == 'limb'"}],
"mark": {"type": "line", "color": "#0000ff", "strokeWidth": 2.7},
"encoding": {
"x": {"field": "w", "type": "quantitative", "axis": null},
"y": {"field": "t", "type": "quantitative", "axis": null},
"detail": {"field": "c"}
}
},
{
"data": {"name": "labels"},
"mark": {"type": "text", "font": "Liberation Sans", "fontSize": 24, "align": "center", "baseline": "alphabetic"},
"encoding": {
"x": {"field": "w", "type": "quantitative", "axis": null},
"y": {"field": "t", "type": "quantitative", "axis": null},
"text": {"field": "label"},
"color": {"field": "g", "type": "nominal", "scale": {"domain": ["filter", "limb"], "range": ["#ff0000", "#0000ff"]}, "legend": null}
}
}
]
}
